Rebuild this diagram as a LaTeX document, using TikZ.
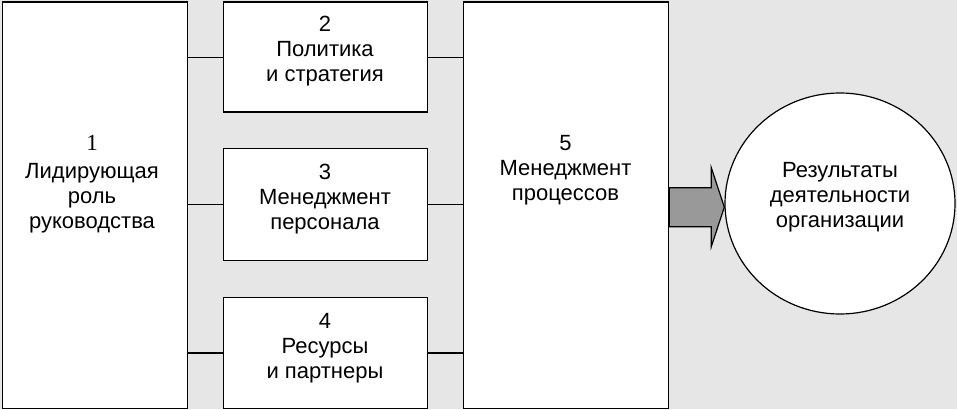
\documentclass[tikz,border=0pt]{standalone}
\usepackage{fontspec}
\setmainfont{Liberation Sans}
\newfontfamily\numserif{Liberation Serif}
\usetikzlibrary{calc,shapes.geometric}
\definecolor{bg}{HTML}{E6E6E6}
\definecolor{arrowgray}{HTML}{999999}
\begin{document}
\begin{tikzpicture}[x=1pt,y=-1pt,
  box/.style={draw, fill=white, line width=1.3pt, inner sep=0pt, anchor=north west},
  lbl/.style={align=center, anchor=base, inner sep=0pt, font=\fontsize{22}{25}\selectfont},
  conn/.style={line width=1.2pt},
  blockarrow/.style={draw, line width=1.2pt, fill=arrowgray, line join=miter}]
\fill[bg] (0,0) rectangle (957,409);
\useasboundingbox (0,0) rectangle (957,409);
% boxes
\node[box, minimum width=185pt, minimum height=406pt] (b1) at (1.5,1.5) {};
\node[box, minimum width=204pt, minimum height=110pt] (b2) at (223,1.5) {};
\node[box, minimum width=204pt, minimum height=111.5pt] (b3) at (223,148) {};
\node[box, minimum width=204pt, minimum height=110.5pt] (b4) at (223,297) {};
\node[box, minimum width=205pt, minimum height=406pt] (b5) at (463,1.5) {};
% connectors
\draw[conn] (b1.east |- b2.west) -- (b2.west);
\draw[conn] (b1.east |- b3.west) -- (b3.west);
\draw[conn] (b1.east |- b4.west) -- (b4.west);
\draw[conn] (b2.east) -- (b2.east -| b5.west);
\draw[conn] (b3.east) -- (b3.east -| b5.west);
\draw[conn] (b4.east) -- (b4.east -| b5.west);
% block arrow
\coordinate (ac) at ($(b5.east)+(0,2)$);
\draw[blockarrow] ($(ac)+(0,-19.5)$) -- ($(ac)+(42,-19.5)$) -- ($(ac)+(42,-39.5)$)
  -- ($(ac)+(55,0)$) -- ($(ac)+(42,39.5)$) -- ($(ac)+(42,19.5)$) -- ($(ac)+(0,19.5)$) -- cycle;
% result ellipse
\node[draw, fill=white, line width=1.2pt, ellipse, inner sep=0pt,
  minimum width=230pt, minimum height=221pt] (res) at (840,203.5) {};
% labels (anchor base = baseline of last line)
\node[lbl] (t1) at (92,228) {{\numserif\fontsize{23}{25}\selectfont 1}\\[3pt]Лидирующая\\роль\\руководства};
\node[lbl] (t2) at (325,82) {2\\Политика\\и стратегия};
\node[lbl] (t3) at (325,229) {3\\Менеджмент\\персонала};
\node[lbl] (t4) at (325,378) {4\\Ресурсы\\и партнеры};
\node[lbl] (t5) at (565.5,200) {5\\Менеджмент\\процессов};
\node[lbl] (tr) at (840,227) {Результаты\\деятельности\\организации};
\end{tikzpicture}
\end{document}
